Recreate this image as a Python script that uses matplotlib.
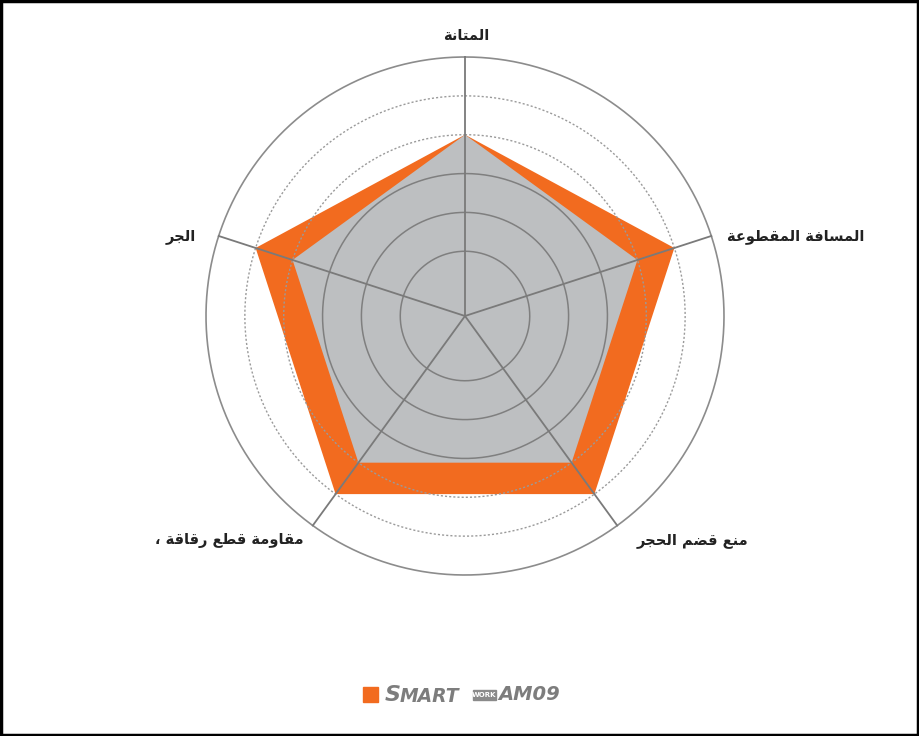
#!/usr/bin/env python3
import numpy as np
import matplotlib
matplotlib.use('Agg')
import matplotlib.pyplot as plt
from matplotlib.patches import Rectangle

#### Radar data (0-100 scale)

# categories clockwise starting at the top
categories = ['المتانة', 'المسافة المقطوعة', 'منع قضم الحجر',
              'مقاومة قطع رقاقة ،', 'الجر']
smartwork_am09 = [70, 85, 85, 85, 85]
reference = [70, 70, 70, 70, 70]
legend_label = 'SMART WORK AM09'

ring_solid = [25, 40, 55]
ring_dotted = [70, 85]
r_max = 100

## Minimal Arabic shaping (matplotlib has no shaping / bidi of its own)
# iso, final, initial, medial presentation forms
forms = {
    'ا': ('\uFE8D', '\uFE8E', None, None),
    'ة': ('\uFE93', '\uFE94', None, None),
    'ت': ('\uFE95', '\uFE96', '\uFE97', '\uFE98'),
    'ج': ('\uFE9D', '\uFE9E', '\uFE9F', '\uFEA0'),
    'ح': ('\uFEA1', '\uFEA2', '\uFEA3', '\uFEA4'),
    'ر': ('\uFEAD', '\uFEAE', None, None),
    'س': ('\uFEB1', '\uFEB2', '\uFEB3', '\uFEB4'),
    'ض': ('\uFEBD', '\uFEBE', '\uFEBF', '\uFEC0'),
    'ط': ('\uFEC1', '\uFEC2', '\uFEC3', '\uFEC4'),
    'ع': ('\uFEC9', '\uFECA', '\uFECB', '\uFECC'),
    'ف': ('\uFED1', '\uFED2', '\uFED3', '\uFED4'),
    'ق': ('\uFED5', '\uFED6', '\uFED7', '\uFED8'),
    'ل': ('\uFEDD', '\uFEDE', '\uFEDF', '\uFEE0'),
    'م': ('\uFEE1', '\uFEE2', '\uFEE3', '\uFEE4'),
    'ن': ('\uFEE5', '\uFEE6', '\uFEE7', '\uFEE8'),
    'و': ('\uFEED', '\uFEEE', None, None),
}


def shape_word(w):
    out = []
    for i, c in enumerate(w):
        if c not in forms:
            out.append(c)
            continue
        prev = w[i-1] if i > 0 else None
        nxt = w[i+1] if i < len(w)-1 else None
        join_prev = prev in forms and forms[prev][2] is not None
        join_next = nxt in forms and forms[c][2] is not None
        f = forms[c]
        if join_prev and join_next:
            out.append(f[3])
        elif join_prev:
            out.append(f[1])
        elif join_next:
            out.append(f[2])
        else:
            out.append(f[0])
    return ''.join(out[::-1])


def shape(s):
    # right-to-left: reverse word order, each word shaped and reversed
    return ' '.join(shape_word(w) for w in s.split(' ')[::-1])


W, H = 920, 736
fig = plt.figure(figsize=(W/100, H/100), dpi=100)
fig.patch.set_facecolor('white')

cx, cy, R = 465, 316, 259
ax = fig.add_axes([(cx-R)/W, (H-cy-R)/H, 2*R/W, 2*R/H], projection='polar')
ax.set_theta_offset(np.pi/2)
ax.set_theta_direction(-1)
ax.set_ylim(0, r_max)
ax.grid(False)
ax.set_xticks([])
ax.set_yticks([])
ax.spines['polar'].set_visible(False)
ax.set_facecolor('none')

n = len(categories)
theta = np.linspace(0, 2*np.pi, n, endpoint=False)
th_c = np.append(theta, theta[0])

ax.fill(th_c, smartwork_am09 + smartwork_am09[:1], color='#F26B1F', lw=0, zorder=1)
ax.fill(th_c, reference + reference[:1], color='#BDBFC1', lw=0, zorder=2)

circ = np.linspace(0, 2*np.pi, 400)
for r in ring_solid:
    ax.plot(circ, np.full_like(circ, r), color='#7f7f7f', lw=1.1, zorder=3)
for r in ring_dotted:
    ax.plot(circ, np.full_like(circ, r), color='#9a9a9a', lw=1.0,
            ls=(0, (1.5, 1.5)), zorder=3)
ax.plot(circ, np.full_like(circ, r_max), color='#8c8c8c', lw=1.2, zorder=3,
        clip_on=False)

for t in theta:
    ax.plot([t, t], [0, r_max], color='#7a7a7a', lw=1.3, zorder=4, clip_on=False)

# axis labels (pixel positions from the reference)
label_pos = [(466, 35), (796, 237), (693, 541), (229, 540), (181, 237)]
for lab, (px, py) in zip(categories, label_pos):
    fig.text(px/W, 1-py/H, shape(lab), ha='center', va='center',
             fontsize=10.5, fontweight='bold', color='#222222',
             family='DejaVu Sans')

# legend
fig.patches.append(Rectangle((363/W, 1-702/H), 15/W, 15/H,
                             transform=fig.transFigure, color='#F26B1F'))
parts = legend_label.split(' ')
gcol = '#7d7d7d'
fig.text(385/W, 1-695/H, parts[0][0], fontsize=16, fontweight='bold',
         style='italic', color=gcol, va='center', ha='left')
fig.text(400/W, 1-696/H, parts[0][1:], fontsize=13.5, fontweight='bold',
         style='italic', color=gcol, va='center', ha='left')
fig.patches.append(Rectangle((473/W, 1-700/H), 23/W, 10/H,
                             transform=fig.transFigure, color='#8a8a8a'))
fig.text(484.5/W, 1-695/H, parts[1], fontsize=5, fontweight='bold',
         color='white', va='center', ha='center')
fig.text(498/W, 1-695/H, parts[2], fontsize=14, fontweight='bold',
         style='italic', color=gcol, va='center', ha='left')

# frame round the picture
fig.patches.append(Rectangle((0.0015, 0.002), 0.996, 0.996,
                             transform=fig.transFigure, fill=False,
                             ec='black', lw=2.5))

fig.savefig('out.png', dpi=100)
